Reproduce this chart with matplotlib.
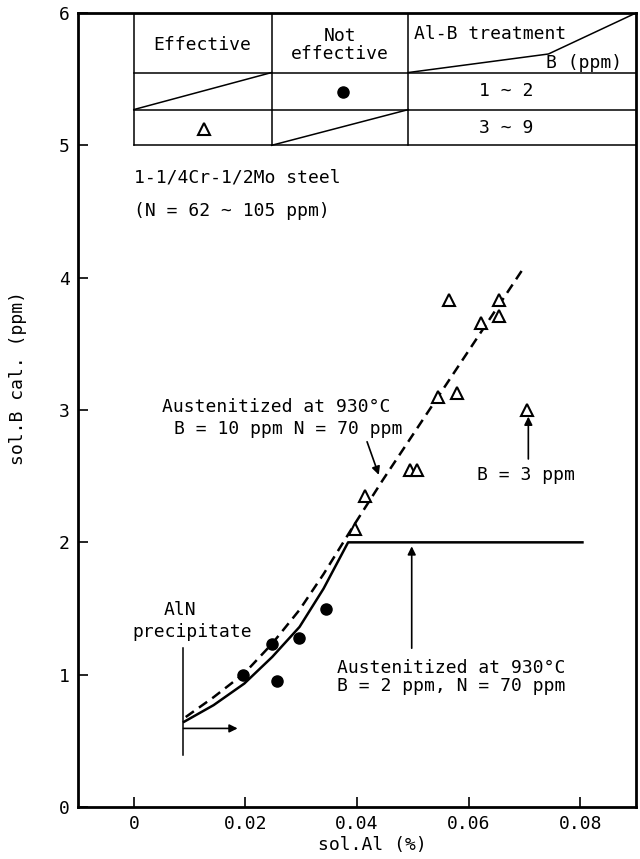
import matplotlib
matplotlib.use('Agg')
import matplotlib.pyplot as plt

# measured points (sol.Al %, sol.B ppm)
circle_x = [0.0195, 0.0248, 0.0257, 0.0296, 0.0344]
circle_y = [1.00, 1.23, 0.95, 1.28, 1.50]

tri_x = [0.0396, 0.0414, 0.0495, 0.0507, 0.0546, 0.0579, 0.0622, 0.0654, 0.0655, 0.0564, 0.0705]
tri_y = [2.10, 2.35, 2.55, 2.55, 3.10, 3.13, 3.655, 3.83, 3.71, 3.83, 3.00]

# calculated curves
solid_x = [0.009, 0.0143, 0.0198, 0.0248, 0.0297, 0.034, 0.0384, 0.0804]
solid_y = [0.644, 0.77, 0.933, 1.134, 1.361, 1.65, 2.0, 2.0]

dash_x = [0.0093, 0.0143, 0.0198, 0.0248, 0.0297, 0.034, 0.0393, 0.0446, 0.0698]
dash_y = [0.68, 0.83, 1.01, 1.235, 1.49, 1.76, 2.12, 2.47, 4.07]

x_ticks = [0, 0.02, 0.04, 0.06, 0.08]
x_labels = ['0', '0.02', '0.04', '0.06', '0.08']
y_ticks = [0, 1, 2, 3, 4, 5, 6]

plt.rcParams['font.family'] = ['DejaVu Sans Mono', 'DejaVu Sans']

fig = plt.figure(figsize=(6.4, 8.59), dpi=100)
ax = fig.add_axes([0.1219, 0.0605, 0.8719, 0.9244])
ax.set_xlim(-0.01, 0.09)
ax.set_ylim(0, 6)

# curves and points
ax.plot(solid_x, solid_y, color='k', lw=1.8)
ax.plot(dash_x, dash_y, color='k', lw=1.8, linestyle=(0, (4, 2.5)))
ax.plot(circle_x, circle_y, 'o', color='k', ms=8)
ax.plot(tri_x, tri_y, '^', mfc='white', mec='k', mew=1.5, ms=8)

# key table at the top
cols = [0.0, 0.0247, 0.0492, 0.09]
rows = [5.0, 5.27, 5.55, 6.0]
tlw = 1.1
for r in rows[:3]:
    ax.plot([cols[0], cols[3]], [r, r], color='k', lw=tlw)
for c in cols[:3]:
    ax.plot([c, c], [rows[0], rows[3]], color='k', lw=tlw)
ax.plot([cols[0], cols[1]], [rows[1], rows[2]], color='k', lw=tlw)
ax.plot([cols[1], cols[2]], [rows[0], rows[1]], color='k', lw=tlw)
ax.plot([cols[2], 0.0743, cols[3]], [rows[2], 5.69, rows[3]], color='k', lw=tlw)

fs = 13
ax.text(0.0123, 5.76, 'Effective', ha='center', va='center', fontsize=fs)
ax.text(0.037, 5.76, 'Not\neffective', ha='center', va='center', fontsize=fs,
        linespacing=1.0)
ax.text(0.0503, 5.84, 'Al-B treatment', ha='left', va='center', fontsize=fs)
ax.text(0.0875, 5.62, 'B (ppm)', ha='right', va='center', fontsize=fs)
ax.plot([0.0375], [5.40], 'o', color='k', ms=8)
ax.text(0.0668, 5.41, '1 ~ 2', ha='center', va='center', fontsize=fs)
ax.plot([0.0125], [5.12], '^', mfc='white', mec='k', mew=1.5, ms=8)
ax.text(0.0668, 5.13, '3 ~ 9', ha='center', va='center', fontsize=fs)

ax.text(0.0, 4.76, '1-1/4Cr-1/2Mo steel', ha='left', va='center', fontsize=fs)
ax.text(0.0, 4.50, '(N = 62 ~ 105 ppm)', ha='left', va='center', fontsize=fs)

# annotations
arr = dict(arrowstyle='-|>', lw=1.2, color='k', mutation_scale=12, shrinkA=0, shrinkB=0)
ax.text(0.005, 3.02, 'Austenitized at 930°C', ha='left', va='center', fontsize=fs)
ax.text(0.0072, 2.86, 'B = 10 ppm N = 70 ppm', ha='left', va='center', fontsize=fs)
ax.annotate('', xy=(0.0439, 2.51), xytext=(0.0418, 2.76), arrowprops=arr)

ax.text(0.0615, 2.51, 'B = 3 ppm', ha='left', va='center', fontsize=fs)
ax.annotate('', xy=(0.0707, 2.95), xytext=(0.0707, 2.63), arrowprops=arr)

ax.text(0.0365, 0.985, 'Austenitized at 930°C\nB = 2 ppm, N = 70 ppm', ha='left',
        va='center', fontsize=fs, linespacing=1.0)
ax.annotate('', xy=(0.0498, 1.97), xytext=(0.0498, 1.20), arrowprops=arr)

ax.text(0.0082, 1.49, 'AlN', ha='center', va='center', fontsize=fs)
ax.text(0.0104, 1.32, 'precipitate', ha='center', va='center', fontsize=fs)
ax.plot([0.0089, 0.0089], [0.39, 1.20], color='k', lw=1.1)
ax.annotate('', xy=(0.0186, 0.594), xytext=(0.0089, 0.594), arrowprops=arr)

# axes styling
ax.set_xticks(x_ticks)
ax.set_xticklabels(x_labels)
ax.set_yticks(y_ticks)
ax.tick_params(direction='in', length=7, width=1.2, labelsize=fs, pad=6)
for s in ax.spines.values():
    s.set_linewidth(2.0)
ax.set_xlabel('sol.Al (%)', fontsize=fs)
ax.xaxis.set_label_coords(0.527, -0.036)
ax.set_ylabel('sol.B cal. (ppm)', fontsize=fs)
ax.yaxis.set_label_coords(-0.091, 0.54)

fig.savefig('out.png', dpi=100)
